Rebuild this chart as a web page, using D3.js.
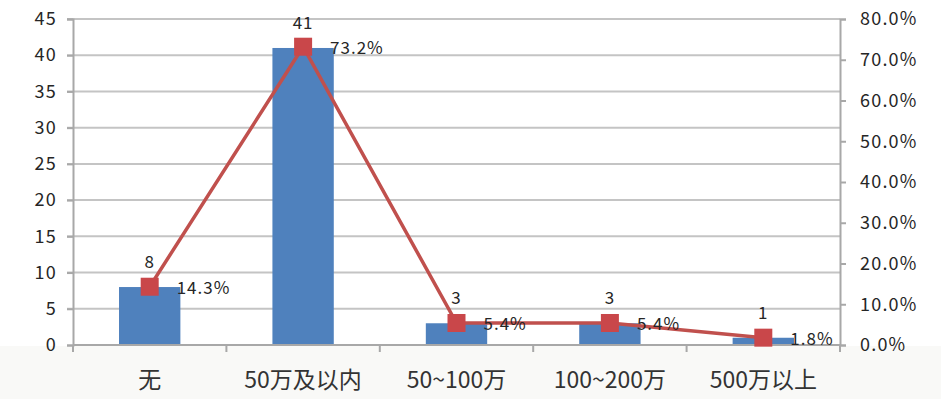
<!DOCTYPE html>
<html><head><meta charset="utf-8">
<script src="https://cdn.jsdelivr.net/npm/d3@7"></script>
<style>
html,body{margin:0;padding:0;background:#fff;}
svg{display:block;}
text{font-family:"Noto Sans CJK SC","Noto Sans",sans-serif;fill:#262626;}
</style></head>
<body>
<svg id="chart" width="941" height="399"></svg>
<script>
const categories = ["无", "50万及以内", "50~100万", "100~200万", "500万以上"];
const counts = [8, 41, 3, 3, 1];
const percents = [0.143, 0.732, 0.054, 0.054, 0.018];
const leftTicks = [0, 5, 10, 15, 20, 25, 30, 35, 40, 45];
const rightTicks = [0, 0.1, 0.2, 0.3, 0.4, 0.5, 0.6, 0.7, 0.8];

const svg = d3.select("#chart");
const W = 941, H = 399;
const m = {left: 73, right: 101, top: 19, bottom: 54};
const x0 = m.left, x1 = W - m.right, y0 = H - m.bottom, y1 = m.top;

// light bottom band
svg.append("rect").attr("x", 0).attr("y", y0 + 1).attr("width", W).attr("height", H - y0).attr("fill", "#f9f9f7");

const x = d3.scaleBand().domain(categories).range([x0, x1]).paddingInner(0.6).paddingOuter(0.3);
const yL = d3.scaleLinear().domain([0, 45]).range([y0, y1]);
const yR = d3.scaleLinear().domain([0, 0.8]).range([y0, y1]);

// gridlines
svg.append("g").selectAll("line").data(leftTicks.filter(d => d > 0)).join("line")
  .attr("x1", x0 - 6).attr("x2", x1).attr("y1", d => yL(d)).attr("y2", d => yL(d))
  .attr("stroke", "#c4c4c4").attr("stroke-width", 2);

// left axis
const gL = svg.append("g").attr("transform", `translate(${x0},0)`)
  .call(d3.axisLeft(yL).tickValues(leftTicks).tickSize(6).tickPadding(10));
gL.select(".domain").attr("stroke", "#a8a8a8").attr("stroke-width", 2);
gL.selectAll(".tick line").attr("stroke", "#a8a8a8").attr("stroke-width", 2);
gL.selectAll("text").attr("font-size", 18).attr("font-family", "DejaVu Sans, sans-serif")
  .attr("letter-spacing", 1.2).style("fill", "#262626");

// right axis
const gR = svg.append("g").attr("transform", `translate(${x1},0)`)
  .call(d3.axisRight(yR).tickValues(rightTicks).tickFormat(d3.format(".1%")).tickSize(6).tickPadding(14));
gR.select(".domain").attr("stroke", "#a8a8a8").attr("stroke-width", 2);
gR.selectAll(".tick line").attr("stroke", "#a8a8a8").attr("stroke-width", 2);
gR.selectAll("text").attr("font-size", 18).attr("font-family", "DejaVu Sans, sans-serif")
  .attr("letter-spacing", 1.2).style("fill", "#262626");

// bars
const xc = d => x(d) + x.bandwidth() / 2;
svg.append("g").selectAll("rect").data(categories).join("rect")
  .attr("x", d => x(d)).attr("width", x.bandwidth())
  .attr("y", (d, i) => yL(counts[i])).attr("height", (d, i) => y0 - yL(counts[i]))
  .attr("fill", "#4f81bd");

// bottom axis
const bounds = d3.range(categories.length + 1).map(i => x0 + (x1 - x0) * i / categories.length);
svg.append("line").attr("x1", x0).attr("x2", x1).attr("y1", y0).attr("y2", y0).attr("stroke", "#a8a8a8").attr("stroke-width", 2);
svg.append("g").selectAll("line").data(bounds).join("line")
  .attr("x1", d => d).attr("x2", d => d).attr("y1", y0).attr("y2", y0 + 7)
  .attr("stroke", "#a8a8a8").attr("stroke-width", 2);
svg.append("g").selectAll("text").data(categories).join("text")
  .attr("x", d => xc(d)).attr("y", 388).attr("text-anchor", "middle")
  .attr("font-size", 23).style("fill", "#333").text(d => d);

// count labels
svg.append("g").selectAll("text").data(categories).join("text")
  .attr("x", d => xc(d)).attr("y", (d, i) => yL(counts[i]) - 19)
  .attr("text-anchor", "middle").attr("font-size", 17).attr("letter-spacing", 1)
  .attr("font-family", "DejaVu Sans, sans-serif")
  .text((d, i) => counts[i]);

// line
const line = d3.line().x((d, i) => xc(categories[i])).y(d => yR(d));
svg.append("path").datum(percents).attr("d", line)
  .attr("fill", "none").attr("stroke", "#c0504d").attr("stroke-width", 3.5);
svg.append("g").selectAll("rect").data(percents).join("rect")
  .attr("x", (d, i) => xc(categories[i]) - 9).attr("y", d => yR(d) - 9)
  .attr("width", 18).attr("height", 18).attr("fill", "#c9474a");

// percent labels
svg.append("g").selectAll("text").data(percents).join("text")
  .attr("x", (d, i) => xc(categories[i]) + 27).attr("y", d => yR(d) + 7)
  .attr("font-size", 17).attr("letter-spacing", 1).attr("font-family", "DejaVu Sans, sans-serif")
  .text(d => d3.format(".1%")(d));
</script>
</body></html>
